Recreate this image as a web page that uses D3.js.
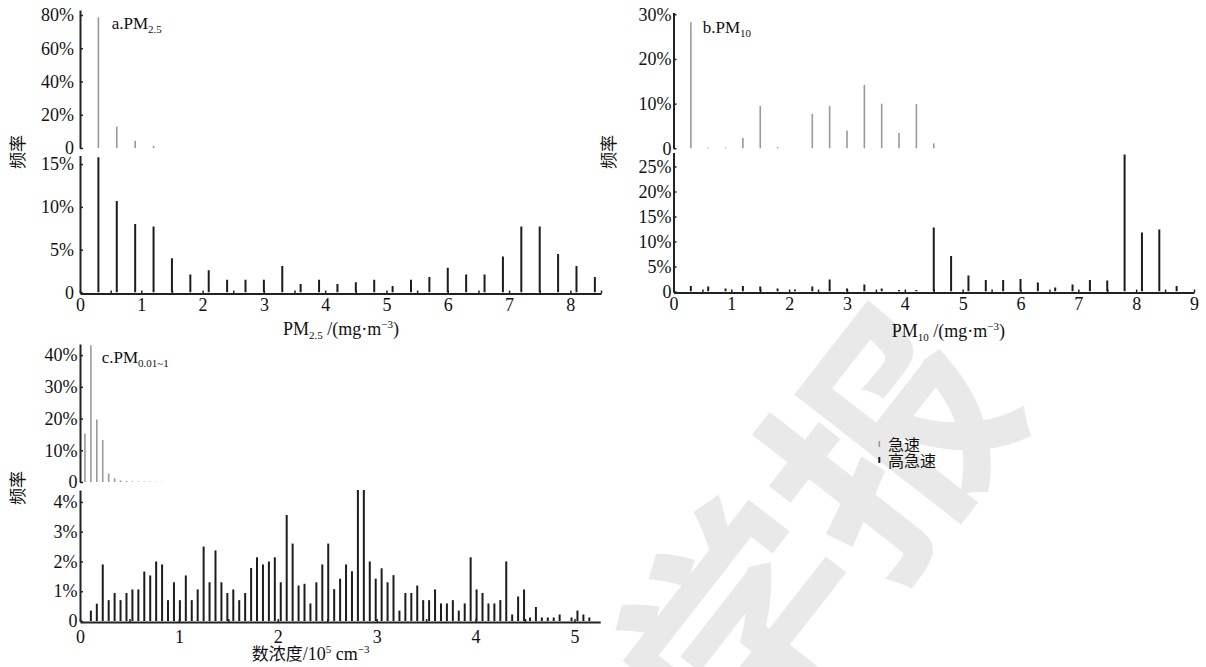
<!DOCTYPE html>
<html><head><meta charset="utf-8">
<script src="https://cdn.jsdelivr.net/npm/d3@7"></script>
<style>body{margin:0;background:#fff}svg{display:block}</style>
</head><body>
<svg id="chart" width="1206" height="667"></svg>
<script>
// ---------- DATA ----------
// Panel a: PM2.5 (mg/m3)
const aCats = [0.3,0.6,0.9,1.2,1.5,1.8,2.1,2.4,2.7,3.0,3.3,3.6,3.9,4.2,4.5,4.8,5.1,5.4,5.7,6.0,6.3,6.6,6.9,7.2,7.5,7.8,8.1,8.4];
const aRapid = [78.6,12.8,4.4,1.3,0,0,0,0,0,0,0,0,0,0,0,0,0,0,0,0,0,0,0,0,0,0,0,0];
const aHigh = [15.8,10.7,8.0,7.7,4.0,2.1,2.6,1.5,1.5,1.5,3.1,1.0,1.5,1.0,1.2,1.5,0.75,1.5,1.8,2.9,2.1,2.1,4.2,7.7,7.7,4.5,3.1,1.8];
const aTopTicks = [0,20,40,60,80];
const aBotTicks = [0,5,10,15];
const aXTicks = [0,0.5,1,1.5,2,2.5,3,3.5,4,4.5,5,5.5,6,6.5,7,7.5,8,8.5];

// Panel b: PM10 (mg/m3)
const bCats = [0.3,0.6,0.9,1.2,1.5,1.8,2.1,2.4,2.7,3.0,3.3,3.6,3.9,4.2,4.5,4.8,5.1,5.4,5.7,6.0,6.3,6.6,6.9,7.2,7.5,7.8,8.1,8.4,8.7];
const bRapid = [28.2,0.2,0.2,2.3,9.5,0.3,0,7.7,9.5,4.0,14.2,10.0,3.4,9.9,1.1,0,0,0,0,0,0,0,0,0,0,0,0,0,0];
const bHigh = [1.1,1.0,0.6,1.1,1.0,0.6,0.4,1.0,2.4,0.6,1.4,0.6,0.3,0.3,12.8,7.1,3.2,2.3,2.3,2.5,1.8,0.8,1.4,2.3,2.2,27.4,11.8,12.4,1.1];
const bTopTicks = [0,10,20,30];
const bBotTicks = [0,5,10,15,20,25];
const bXTicks = [0,0.5,1,1.5,2,2.5,3,3.5,4,4.5,5,5.5,6,6.5,7,7.5,8,8.5,9];

// Panel c: number concentration (1e5 cm-3)
const cCats = [0.05,0.11,0.17,0.23,0.29,0.35,0.41,0.47,0.53,0.59,0.65,0.71,0.77,0.83,0.89,0.95,1.01,1.07,1.13,1.19,1.25,1.31,1.37,1.43,1.49,1.55,1.61,1.67,1.73,1.79,1.85,1.91,1.97,2.03,2.09,2.15,2.21,2.27,2.33,2.39,2.45,2.51,2.57,2.63,2.69,2.75,2.81,2.87,2.93,2.99,3.05,3.11,3.17,3.23,3.29,3.35,3.41,3.47,3.53,3.59,3.65,3.71,3.77,3.83,3.89,3.95,4.01,4.07,4.13,4.19,4.25,4.31,4.37,4.43,4.49,4.55,4.61,4.67,4.73,4.79,4.85,4.91,4.97,5.03,5.09,5.15];
const cRapid = [15.3,43.1,19.7,13.2,2.7,1.2,0.5,0.3,0.2,0.2,0.15,0.15,0.1,0.1,0,0,0,0,0,0,0,0,0,0,0,0,0,0,0,0,0,0,0,0,0,0,0,0,0,0,0,0,0,0,0,0,0,0,0,0,0,0,0,0,0,0,0,0,0,0,0,0,0,0,0,0,0,0,0,0,0,0,0,0,0,0,0,0,0,0,0,0,0,0,0,0];
const cHigh = [0,0.35,0.58,1.9,0.70,0.94,0.70,0.94,1.06,1.06,1.66,1.53,2.0,1.9,0.70,1.3,0.70,1.53,0.70,1.06,2.5,1.3,2.37,1.3,0.94,1.06,0.70,0.94,1.78,2.14,1.9,2.0,2.14,1.3,3.56,2.6,1.19,1.25,0.59,1.3,1.9,2.6,1.07,1.42,1.9,1.67,4.6,4.6,2.0,1.42,1.77,1.3,1.54,0.35,0.94,0.94,1.19,0.70,0.70,1.06,0.59,0.59,0.70,0.35,0.59,2.14,1.06,0.94,0.59,0.59,0.70,2.0,0.22,0.82,1.06,0.12,0.47,0.12,0.12,0.12,0.22,0,0.12,0.35,0.22,0.12];
const cTopTicks = [0,10,20,30,40];
const cBotTicks = [0,1,2,3,4];
const cXTicks = [0,0.5,1,1.5,2,2.5,3,3.5,4,4.5,5];

const legendItems = ["急速","高急速"];

// ---------- DRAW ----------
const svg = d3.select("#chart");
const SERIF = "'Liberation Serif','Times New Roman',serif";
const CJK = "'Noto Sans CJK SC','Noto Sans',sans-serif";
const GRAY = "#9a9a9a", BLACK = "#1c1c1c", AXIS = "#222";

// watermark
svg.append("text")
  .attr("transform","translate(805,525) rotate(-52)")
  .attr("text-anchor","middle").attr("dominant-baseline","central")
  .attr("font-family",CJK).attr("font-size",235).attr("font-weight",700)
  .attr("fill","#e9e9e9").text("学报");

let clipId = 0;
function panel(cfg){
  const x = d3.scaleLinear().domain(cfg.xDomain).range(cfg.xRange);
  const yT = d3.scaleLinear().domain(cfg.topDomain).range(cfg.topRange);
  const yB = d3.scaleLinear().domain(cfg.botDomain).range(cfg.botRange);
  const fmt = d => d === 0 ? "0" : d + "%";

  const gT = svg.append("g").attr("transform",`translate(${cfg.xRange[0]},0)`)
    .call(d3.axisLeft(yT).tickValues(cfg.topTicks).tickFormat(fmt).tickSizeInner(-3).tickSizeOuter(0).tickPadding(cfg.pad));
  const gB = svg.append("g").attr("transform",`translate(${cfg.xRange[0]},0)`)
    .call(d3.axisLeft(yB).tickValues(cfg.botTicks).tickFormat(fmt).tickSizeInner(-3).tickSizeOuter(0).tickPadding(cfg.pad));
  const gX = svg.append("g").attr("transform",`translate(0,${cfg.botRange[0]+1})`)
    .call(d3.axisBottom(x).tickValues(cfg.xTicks).tickFormat(d => Number.isInteger(d) ? d : "").tickSizeInner(-3).tickSizeOuter(0).tickPadding(cfg.xpad));
  [gT,gB,gX].forEach(g=>{
    g.attr("font-family",SERIF).attr("font-size",18);
    g.select(".domain").attr("stroke",AXIS).attr("stroke-width",2);
    g.selectAll(".tick line").attr("stroke",AXIS).attr("stroke-width",1.5);
    g.selectAll(".tick text").attr("fill","#111")
      .style("font-family",SERIF).style("font-size","18px");
  });

  const id = "clip" + (clipId++);
  svg.append("clipPath").attr("id",id).append("rect")
    .attr("x",cfg.xRange[0]).attr("y",cfg.botRange[1])
    .attr("width",cfg.xRange[1]-cfg.xRange[0]).attr("height",cfg.botRange[0]-cfg.botRange[1]);

  const topData = cfg.cats.map((c,i)=>({c,v:cfg.rapid[i]})).filter(d=>d.v>0);
  svg.append("g").selectAll("line").data(topData).join("line")
    .attr("x1",d=>x(d.c)).attr("x2",d=>x(d.c))
    .attr("y1",yT(0)).attr("y2",d=>yT(d.v))
    .attr("stroke",GRAY).attr("stroke-width",1.6);

  const botData = cfg.cats.map((c,i)=>({c,v:cfg.high[i]})).filter(d=>d.v>0);
  svg.append("g").attr("clip-path",`url(#${id})`).selectAll("line").data(botData).join("line")
    .attr("x1",d=>x(d.c)).attr("x2",d=>x(d.c))
    .attr("y1",yB(0)).attr("y2",d=>yB(d.v))
    .attr("stroke",BLACK).attr("stroke-width",2);

  const t = svg.append("text").attr("x",cfg.title.x).attr("y",cfg.title.y)
    .style("font-family",SERIF).attr("font-size",17).attr("fill","#111");
  t.append("tspan").text(cfg.title.main);
  t.append("tspan").attr("font-size",11).attr("dy",4).text(cfg.title.sub);

  svg.append("text").attr("transform",`translate(${cfg.ylab[0]},${cfg.ylab[1]}) rotate(-90)`)
    .attr("text-anchor","middle").attr("dominant-baseline","central")
    .style("font-family",CJK).attr("font-size",17).attr("fill","#111").text("频率");

  const xt = svg.append("text").attr("x",cfg.xtitle.x).attr("y",cfg.xtitle.y)
    .style("font-family",SERIF).attr("font-size",18).attr("fill","#111");
  cfg.xtitle.parts.forEach(p=>{
    const s = xt.append("tspan").text(p.t);
    if(p.size) s.attr("font-size",p.size);
    if(p.dy) s.attr("dy",p.dy);
    if(p.font) s.style("font-family",p.font);
  });
}

panel({
  cats:aCats, rapid:aRapid, high:aHigh,
  xDomain:[0,8.5], xRange:[80,601],
  topDomain:[0,83], topRange:[148,10], topTicks:aTopTicks,
  botDomain:[0,16], botRange:[292.5,155.5], botTicks:aBotTicks,
  xTicks:aXTicks, pad:6, xpad:4.5,
  title:{x:111.7,y:29.3,main:"a.PM",sub:"2.5"},
  ylab:[16,152],
  xtitle:{x:283,y:335,parts:[{t:"PM"},{t:"2.5",size:11,dy:4},{t:" /(mg·m",size:18,dy:-4},{t:"−3",size:11,dy:-7},{t:")",size:18,dy:7}]}
});

panel({
  cats:bCats, rapid:bRapid, high:bHigh,
  xDomain:[0,9], xRange:[673.5,1194],
  topDomain:[0,30.4], topRange:[148.3,12.5], topTicks:bTopTicks,
  botDomain:[0,27.8], botRange:[291.5,152.5], botTicks:bBotTicks,
  xTicks:bXTicks, pad:2, xpad:5,
  title:{x:702.7,y:33.3,main:"b.PM",sub:"10"},
  ylab:[607,152],
  xtitle:{x:891.7,y:337,parts:[{t:"PM"},{t:"10",size:11,dy:4},{t:" /(mg·m",size:18,dy:-4},{t:"−3",size:11,dy:-7},{t:")",size:18,dy:7}]}
});

panel({
  cats:cCats, rapid:cRapid, high:cHigh,
  xDomain:[0,5.26], xRange:[80,600.2],
  topDomain:[0,43.5], topRange:[482,344], topTicks:cTopTicks,
  botDomain:[0,4.4], botRange:[621,490], botTicks:cBotTicks,
  xTicks:cXTicks, pad:2.5, xpad:8.5,
  title:{x:101.7,y:363,main:"c.PM",sub:"0.01~1"},
  ylab:[16,488],
  xtitle:{x:251.7,y:660,parts:[{t:"数浓度",font:CJK,size:17},{t:"/10"},{t:"5",size:11,dy:-7},{t:" cm",size:18,dy:7},{t:"−3",size:11,dy:-7}]}
});

// legend
const lg = svg.append("g");
legendItems.forEach((name,i)=>{
  const cy = 444 + i*16;
  lg.append("line").attr("x1",879.3).attr("x2",879.3).attr("y1",cy-3).attr("y2",cy+3)
    .attr("stroke", i===0 ? GRAY : BLACK).attr("stroke-width", i===0 ? 1.6 : 2);
  lg.append("text").attr("x",888).attr("y",cy).attr("dominant-baseline","central")
    .style("font-family",CJK).attr("font-size",16).attr("fill","#111").text(name);
});
</script>
</body></html>
